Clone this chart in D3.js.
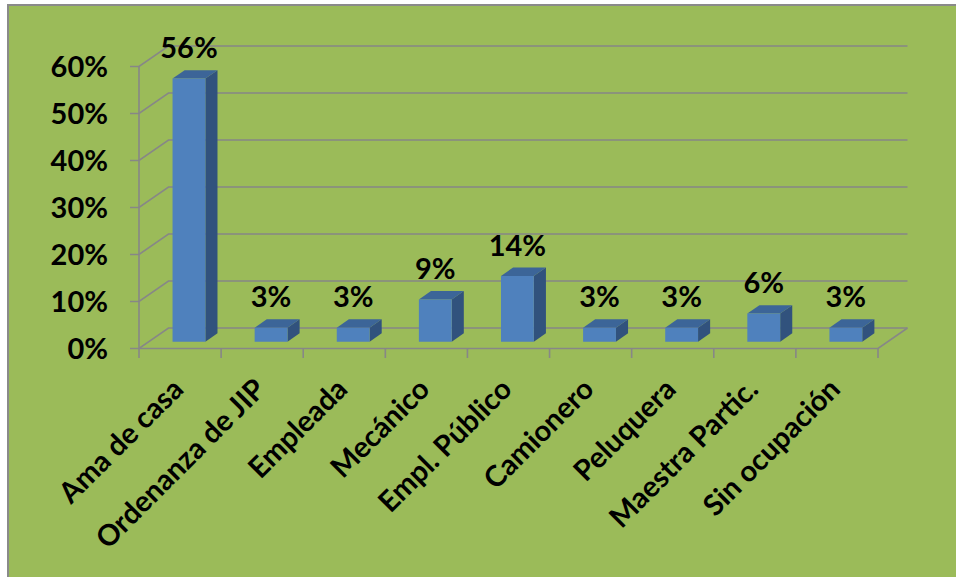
<!DOCTYPE html>
<html>
<head>
<meta charset="utf-8">
<script src="https://cdn.jsdelivr.net/npm/d3@7"></script>
<style>
  html, body { margin: 0; padding: 0; background: #ffffff; }
  svg { display: block; }
</style>
</head>
<body>
<div id="chart"></div>
<script>
// data
var categories = ['Ama de casa', 'Ordenanza de JIP', 'Empleada', 'Mecánico', 'Empl. Público',
                  'Camionero', 'Peluquera', 'Maestra Partic.', 'Sin ocupación'];
var values = [56, 3, 3, 9, 14, 3, 3, 6, 3];
var yTicks = [0, 10, 20, 30, 40, 50, 60];

var width = 956, height = 577;

// 3d look: depth shift of the back wall
var DX = 29.5, DY = -20.5;
var barZ0 = 0.33, barZ1 = 0.74;
var font = 'Lato, "Open Sans", sans-serif';

var svg = d3.select('#chart').append('svg')
    .attr('width', width)
    .attr('height', height);

svg.append('rect')
    .attr('x', 8).attr('y', 5)
    .attr('width', width + 10).attr('height', height + 10)
    .attr('fill', '#9BBB59')
    .attr('stroke', '#8A8A8A')
    .attr('stroke-width', 2);

var x = d3.scaleBand().domain(categories).range([139, 878]);
var y = d3.scaleLinear().domain([0, 60]).range([348.5, 66.5]);

function p(px, v, z) {
    return [px + z * DX, y(v) + z * DY];
}

var grid = svg.append('g')
    .attr('stroke', '#878787')
    .attr('stroke-width', 1.6)
    .attr('fill', 'none');

// back wall gridlines + side wall diagonals + ticks
yTicks.forEach(function(t) {
    var a = p(139, t, 0), b = p(139, t, 1), c = p(878, t, 1);
    grid.append('path').attr('d', 'M' + (a[0] - 9) + ',' + a[1] + 'L' + a[0] + ',' + a[1] +
        'L' + b[0] + ',' + b[1] + 'L' + c[0] + ',' + c[1]);
});

// front axis and floor
grid.append('path').attr('d', 'M' + p(139, 60, 0) + 'L' + p(139, 0, 0) + 'L' + p(878, 0, 0) + 'L' + p(878, 0, 1));

categories.forEach(function(c) {
    var xx = x(c);
    grid.append('line').attr('x1', xx).attr('x2', xx).attr('y1', y(0)).attr('y2', y(0) + 9.5);
});
grid.append('line').attr('x1', 878).attr('x2', 878).attr('y1', y(0)).attr('y2', y(0) + 9.5);

// bars
var bw = x.bandwidth();
var bars = svg.append('g').selectAll('g')
    .data(values)
    .enter()
    .append('g');

function poly(pts) {
    return 'M' + pts.join('L') + 'Z';
}

bars.append('path')
    .attr('fill', '#31527D')
    .attr('d', function(d, i) {
        var x1 = x(categories[i]) + bw * 0.69;
        return poly([p(x1, 0, barZ0), p(x1, d, barZ0), p(x1, d, barZ1), p(x1, 0, barZ1)]);
    });

bars.append('path')
    .attr('fill', '#3C6598')
    .attr('d', function(d, i) {
        var x0 = x(categories[i]) + bw * 0.29;
        var x1 = x(categories[i]) + bw * 0.69;
        return poly([p(x0, d, barZ0), p(x1, d, barZ0), p(x1, d, barZ1), p(x0, d, barZ1)]);
    });

bars.append('path')
    .attr('fill', '#4F81BD')
    .attr('d', function(d, i) {
        var x0 = x(categories[i]) + bw * 0.29;
        var x1 = x(categories[i]) + bw * 0.69;
        return poly([p(x0, 0, barZ0), p(x0, d, barZ0), p(x1, d, barZ0), p(x1, 0, barZ0)]);
    });

// data labels
bars.append('text')
    .attr('x', function(d, i) { return x(categories[i]) + bw * 0.49 + barZ0 * DX; })
    .attr('y', function(d) { return p(0, d, barZ1)[1] - 12; })
    .attr('text-anchor', 'middle')
    .attr('font-family', font)
    .attr('font-weight', 'bold')
    .attr('font-size', 29)
    .attr('fill', '#000')
    .text(function(d) { return d + '%'; });

// y labels
svg.append('g').selectAll('text')
    .data(yTicks)
    .enter()
    .append('text')
    .attr('x', 108)
    .attr('y', function(d) { return y(d); })
    .attr('dy', '0.36em')
    .attr('text-anchor', 'end')
    .attr('font-family', font)
    .attr('font-weight', 'bold')
    .attr('font-size', 29)
    .attr('fill', '#000')
    .text(function(d) { return d + '%'; });

// category labels
svg.append('g').selectAll('text')
    .data(categories)
    .enter()
    .append('text')
    .attr('transform', function(d) {
        return 'translate(' + (x(d) + bw / 2 + 5) + ',391) rotate(-45)';
    })
    .attr('text-anchor', 'end')
    .attr('font-family', font)
    .attr('font-weight', 'bold')
    .attr('font-size', 29)
    .attr('fill', '#000')
    .text(function(d) { return d; });
</script>
</body>
</html>
